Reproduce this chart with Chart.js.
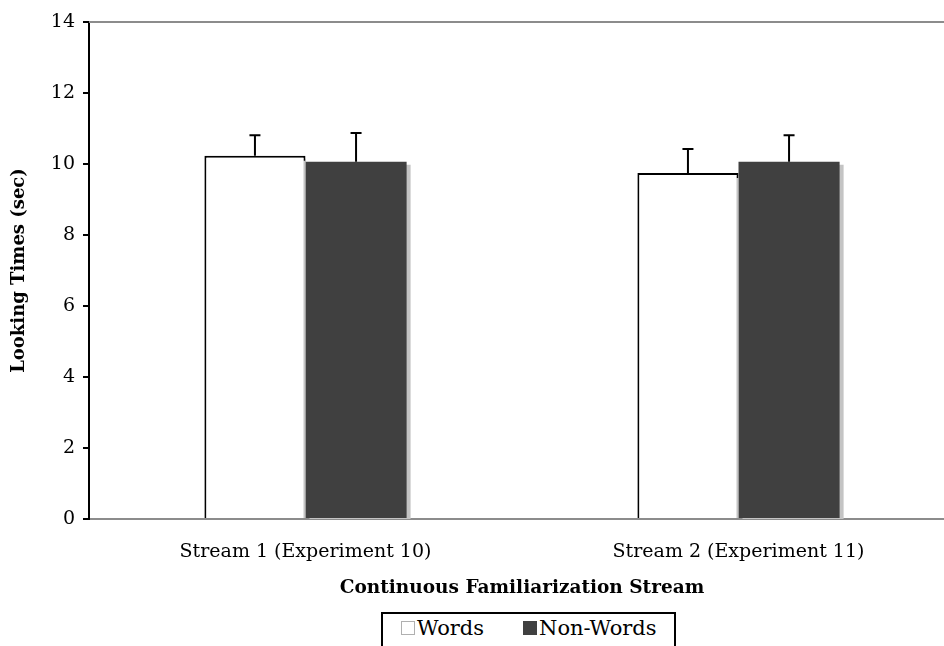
<!DOCTYPE html>
<html>
<head>
<meta charset="utf-8">
<script src="https://cdn.jsdelivr.net/npm/chart.js@4/dist/chart.umd.min.js"></script>
<style>
  html, body { margin: 0; padding: 0; background: #fff; overflow: hidden; }
  #wrap { position: relative; width: 944px; height: 646px; overflow: hidden; }
  #chart { position: absolute; left: 0; top: 0; }
  #legend {
    position: absolute; left: 381px; top: 612px; width: 291px; height: 44px;
    border: 2px solid #000; background: #fff; box-sizing: content-box;
    font-family: "DejaVu Serif", serif; font-size: 21px; color: #000;
  }
  #legend .item { position: absolute; top: 2px; display: flex; align-items: center; }
  #legend .sw { width: 14px; height: 14px; margin-right: 2px; box-sizing: border-box; }
</style>
</head>
<body>
<div id="wrap">
  <canvas id="chart" width="955" height="646" style="width:955px;height:646px"></canvas>
  <div id="legend"></div>
</div>
<script>
// Looking times per familiarization stream
const categories = ["Stream 1 (Experiment 10)", "Stream 2 (Experiment 11)"];
const seriesNames = ["Words", "Non-Words"];
const wordsMeans = [10.23, 9.75];
const nonWordsMeans = [10.06, 10.06];
const wordsErr = [0.58, 0.67];
const nonWordsErr = [0.81, 0.75];
const yTicks = [0, 2, 4, 6, 8, 10, 12, 14];

const seriesFill = ["#ffffff", "#404040"];
const seriesBorder = ["#000000", "#404040"];
const errors = [wordsErr, nonWordsErr];

const SERIF = "'DejaVu Serif', 'Liberation Serif', serif";

// soft grey drop shadow behind the bars
const barShadow = {
  id: "barShadow",
  beforeDatasetsDraw(chart) {
    const ctx = chart.ctx;
    ctx.save();
    ctx.shadowColor = "#c4c4c4";
    ctx.shadowOffsetX = 4;
    ctx.shadowOffsetY = 3;
    ctx.shadowBlur = 0;
  },
  afterDatasetsDraw(chart) {
    chart.ctx.restore();
  }
};

// upward error bars with a short cap
const errorBars = {
  id: "errorBars",
  afterDatasetsDraw(chart) {
    const ctx = chart.ctx;
    const y = chart.scales.y;
    ctx.save();
    ctx.strokeStyle = "#000";
    ctx.lineWidth = 2;
    chart.data.datasets.forEach((ds, i) => {
      const meta = chart.getDatasetMeta(i);
      meta.data.forEach((bar, j) => {
        const v = ds.data[j];
        const top = y.getPixelForValue(v + errors[i][j]);
        const x = bar.x;
        ctx.beginPath();
        ctx.moveTo(x, bar.y);
        ctx.lineTo(x, top);
        ctx.moveTo(x - 5.5, top);
        ctx.lineTo(x + 5.5, top);
        ctx.stroke();
      });
    });
    ctx.restore();
  }
};

// grey frame line along the top of the plot
const topLine = {
  id: "topLine",
  afterDraw(chart) {
    const { ctx, chartArea } = chart;
    ctx.save();
    ctx.strokeStyle = "#8c8c8c";
    ctx.lineWidth = 2;
    ctx.beginPath();
    ctx.moveTo(chartArea.left, chartArea.top);
    ctx.lineTo(chartArea.right, chartArea.top);
    ctx.stroke();
    ctx.restore();
  }
};

new Chart(document.getElementById("chart"), {
  type: "bar",
  data: {
    labels: categories,
    datasets: [
      {
        label: seriesNames[0], data: wordsMeans,
        backgroundColor: seriesFill[0], borderColor: seriesBorder[0],
        borderWidth: 2, borderSkipped: "bottom"
      },
      {
        label: seriesNames[1], data: nonWordsMeans,
        backgroundColor: seriesFill[1], borderColor: seriesBorder[1],
        borderWidth: 0
      }
    ]
  },
  options: {
    responsive: false,
    animation: false,
    events: [],
    layout: { padding: { top: 22, left: 0, right: 0, bottom: 0 } },
    datasets: { bar: { categoryPercentage: 0.467, barPercentage: 1.0 } },
    plugins: { legend: { display: false }, tooltip: { enabled: false } },
    scales: {
      x: {
        grid: { display: false },
        border: { display: true, color: "#8c8c8c", width: 2 },
        ticks: { color: "#000", padding: 14, font: { family: SERIF, size: 19 } },
        title: {
          display: true, text: "Continuous Familiarization Stream", color: "#000",
          font: { family: SERIF, size: 18.5, weight: "bold" },
          padding: { top: 0, bottom: 47 }
        },
        afterFit(s) { s.height = 127; }
      },
      y: {
        min: 0, max: 14,
        afterBuildTicks(s) { s.ticks = yTicks.map(v => ({ value: v })); },
        grid: { drawOnChartArea: false, drawTicks: true, tickLength: 6, color: "#000", lineWidth: 2 },
        border: { display: true, color: "#000", width: 2 },
        ticks: { color: "#000", padding: 8, font: { family: SERIF, size: 19 } },
        title: {
          display: true, text: "Looking Times (sec)", color: "#000",
          font: { family: SERIF, size: 18, weight: "bold" },
          padding: { top: 9, bottom: 6 }
        },
        afterFit(s) { s.width = 89; }
      }
    }
  },
  plugins: [barShadow, errorBars, topLine]
});

// legend box below the axis title
const legend = document.getElementById("legend");
const legendX = [18, 140];
seriesNames.forEach((name, i) => {
  const item = document.createElement("div");
  item.className = "item";
  item.style.left = legendX[i] + "px";
  const sw = document.createElement("span");
  sw.className = "sw";
  sw.style.background = seriesFill[i];
  sw.style.border = i === 0 ? "1px solid #b0b0b0" : "1px solid " + seriesFill[i];
  const tx = document.createElement("span");
  tx.textContent = name;
  item.appendChild(sw);
  item.appendChild(tx);
  legend.appendChild(item);
});
</script>
</body>
</html>
